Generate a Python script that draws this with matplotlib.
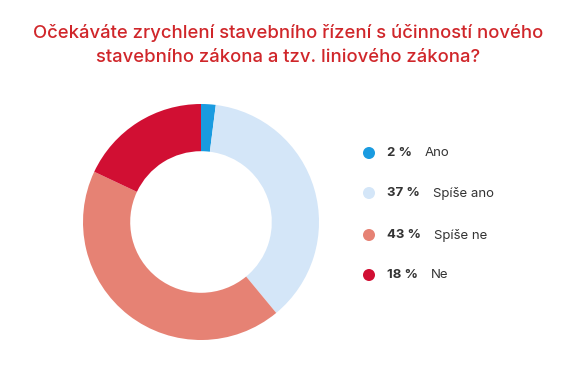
import matplotlib
matplotlib.use("Agg")
import matplotlib.pyplot as plt

plt.rcParams["font.family"] = ["Inter", "DejaVu Sans"]

TITLE = "Očekáváte zrychlení stavebního řízení s účinností nového\nstavebního zákona a tzv. liniového zákona?"
labels = ["Ano", "Spíše ano", "Spíše ne", "Ne"]
values = [2, 37, 43, 18]
colors = ["#1a9be0", "#d4e6f8", "#e68274", "#d10f33"]

W, H = 576, 381
fig = plt.figure(figsize=(W / 100, H / 100), dpi=100)
fig.patch.set_facecolor("white")

fig.text(0.5, 1 - 45 / H, TITLE, ha="center", va="center", color="#d0262a",
         fontsize=13.3, fontweight="medium", linespacing=1.5)

# donut
cx, cy, r = 201, 222, 118
ax = fig.add_axes([(cx - r) / W, (H - cy - r) / H, 2 * r / W, 2 * r / H])
ax.pie(values, colors=colors, startangle=90, counterclock=False,
       wedgeprops=dict(width=0.4, edgecolor="none"))
ax.set_xlim(-1, 1)
ax.set_ylim(-1, 1)
ax.set_aspect("equal")

# legend
leg = fig.add_axes([0, 0, 1, 1])
leg.set_xlim(0, W)
leg.set_ylim(H, 0)
leg.axis("off")
renderer = fig.canvas.get_renderer()
ys = [153, 193, 235, 275]
for y, lab, v, c in zip(ys, labels, values, colors):
    leg.scatter([369], [y], s=75, color=c, edgecolor="none")
    t = leg.text(387, y, f"{v} %", va="center", ha="left", fontsize=9.5,
                 fontweight="bold", color="#333333")
    w = t.get_window_extent(renderer).width
    leg.text(387 + w + 13, y, lab, va="center", ha="left",
             fontsize=9.5, color="#333333")

fig.savefig("out.png", dpi=100)
